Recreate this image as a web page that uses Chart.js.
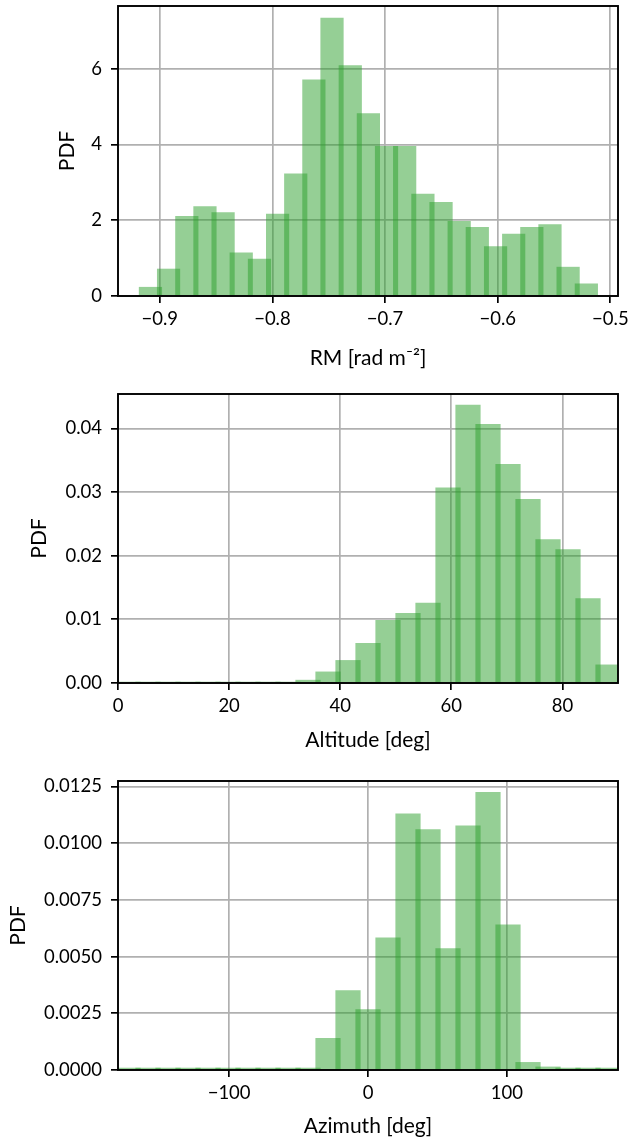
<!DOCTYPE html>
<html><head><meta charset="utf-8">
<script src="https://cdn.jsdelivr.net/npm/chart.js@4.4.0/dist/chart.umd.min.js"></script>
<style>
html,body{margin:0;padding:0;background:#fff;}
.p{position:absolute;left:0;width:630px;}
</style></head><body>
<div class="p" style="top:0;height:380px"><canvas id="c1"></canvas></div>
<div class="p" style="top:380px;height:380px"><canvas id="c2"></canvas></div>
<div class="p" style="top:760px;height:379px"><canvas id="c3"></canvas></div>
<script>
// ---- data ----
const rmBins = [-0.9083,-0.8922,-0.8760,-0.8599,-0.8438,-0.8277,-0.8115,-0.7954,-0.7793,-0.7632,-0.7471,-0.7309,-0.7148,-0.6987,-0.6826,-0.6664,-0.6503,-0.6342,-0.6181,-0.6019,-0.5858,-0.5697,-0.5536,-0.5375,-0.5213];
const rmPdf  = [0.24,0.72,2.11,2.37,2.21,1.15,0.98,2.17,3.23,5.71,7.34,6.09,4.82,3.96,3.96,2.70,2.48,1.98,1.82,1.31,1.64,1.82,1.89,0.77,0.33];

const altBins = [1.8,5.4,9.0,12.6,16.2,19.8,23.4,27.0,30.6,34.2,37.8,41.4,45.0,48.6,52.2,55.8,59.4,63.0,66.6,70.2,73.8,77.4,81.0,84.6,88.2];
const altPdf  = [0.0002,0.0002,0.0002,0.0002,0.0002,0.0002,0.0002,0.0002,0.0002,0.0005,0.0018,0.0036,0.0063,0.0099,0.0110,0.0126,0.0307,0.0437,0.0407,0.0344,0.0289,0.0226,0.0210,0.0133,0.0029];

const azBins = [-172.8,-158.4,-144.0,-129.6,-115.2,-100.8,-86.4,-72.0,-57.6,-43.2,-28.8,-14.4,0.0,14.4,28.8,43.2,57.6,72.0,86.4,100.8,115.2,129.6,144.0,158.4,172.8];
const azPdf  = [0.0001,0.0001,0.0001,0.0001,0.0001,0.0001,0.0001,0.0001,0.0001,0.0001,0.00141,0.00352,0.00268,0.00584,0.01131,0.01061,0.00537,0.01078,0.01225,0.00641,0.00035,0.00015,0.0001,0.0001,0.0001];

const rmTicks  = [-0.9,-0.8,-0.7,-0.6,-0.5];
const altTicks = [0,20,40,60,80];
const azTicks  = [-100,0,100];
const rmYTicks  = [0,2,4,6];
const altYTicks = [0,0.01,0.02,0.03,0.04];
const azYTicks  = [0,0.0025,0.005,0.0075,0.01,0.0125];

// ---- style ----
Chart.defaults.color = '#000';
Chart.defaults.font.family = 'Lato, "Noto Sans", sans-serif';
Chart.defaults.font.size = 18.5;
const TITLE_FONT = {size: 21};

const minus = s => s.replace('-', '\u2212');

const boxPlugin = {
  id: 'box',
  afterDraw(chart) {
    const a = chart.chartArea, ctx = chart.ctx;
    ctx.save();
    ctx.strokeStyle = '#000';
    ctx.lineWidth = 1.9;
    ctx.strokeRect(a.left, a.top, a.right - a.left, a.bottom - a.top);
    ctx.restore();
  }
};

function makeChart(id, cfg) {
  const H = cfg.H;
  return new Chart(document.getElementById(id), {
    type: 'bar',
    data: {
      datasets: [{
        data: cfg.bins.map((b, i) => ({x: b, y: cfg.pdf[i]})),
        backgroundColor: 'rgba(44,160,44,0.5)',
        borderWidth: 0,
        categoryPercentage: 1,
        barPercentage: cfg.bp
      }]
    },
    options: {
      responsive: true,
      maintainAspectRatio: false,
      animation: false,
      events: [],
      layout: {padding: {top: cfg.top, right: 12, left: 0, bottom: 0}},
      plugins: {legend: {display: false}, tooltip: {enabled: false}},
      scales: {
        x: {
          type: 'linear',
          min: cfg.xmin, max: cfg.xmax,
          offset: false,
          z: 1,
          grid: {offset: false, color: '#b0b0b0', lineWidth: 1.7, tickColor: '#000', tickWidth: 1.7, tickLength: 7},
          border: {display: false},
          afterBuildTicks: s => { s.ticks = cfg.xticks.map(v => ({value: v})); },
          afterFit: s => { s.height = H - cfg.bottom; s.paddingLeft = 0; s.paddingRight = 0; },
          ticks: {autoSkip: false, maxRotation: 0, padding: 5, callback: cfg.xfmt},
          title: {display: true, text: cfg.xtitle, font: TITLE_FONT, padding: {top: 0, bottom: cfg.xtpad}}
        },
        y: {
          min: 0, max: cfg.ymax,
          z: 1,
          grid: {color: '#b0b0b0', lineWidth: 1.7, tickColor: '#000', tickWidth: 1.7, tickLength: 7},
          border: {display: false},
          afterBuildTicks: s => { s.ticks = cfg.yticks.map(v => ({value: v})); },
          afterFit: s => { s.width = 118; s.paddingTop = 0; s.paddingBottom = 0; },
          ticks: {padding: 9, callback: cfg.yfmt},
          title: {display: true, text: 'PDF', font: TITLE_FONT, padding: {top: cfg.ytpad, bottom: 0}}
        }
      }
    },
    plugins: [boxPlugin]
  });
}

makeChart('c1', {
  H: 380, top: 6, bottom: 296, bins: rmBins, pdf: rmPdf, bp: 1.28,
  xmin: -0.9371, xmax: -0.4932, ymax: 7.65,
  xticks: rmTicks, yticks: rmYTicks,
  xfmt: v => minus(Number(v).toFixed(1)), yfmt: v => String(v),
  xtitle: 'RM [rad m\u207B\u00B2]', xtpad: 9, ytpad: 55
});
makeChart('c2', {
  H: 380, top: 14, bottom: 303, bins: altBins, pdf: altPdf, bp: 1.26,
  xmin: 0, xmax: 90, ymax: 0.0454,
  xticks: altTicks, yticks: altYTicks,
  xfmt: v => String(v), yfmt: v => Number(v).toFixed(2),
  xtitle: 'Altitude [deg]', xtpad: 7, ytpad: 27
});
makeChart('c3', {
  H: 379, top: 21, bottom: 310, bins: azBins, pdf: azPdf, bp: 1.26,
  xmin: -180, xmax: 180, ymax: 0.01274,
  xticks: azTicks, yticks: azYTicks,
  xfmt: v => minus(String(Math.round(v))), yfmt: v => Number(v).toFixed(4),
  xtitle: 'Azimuth [deg]', xtpad: 0, ytpad: 6
});
</script>
</body></html>
